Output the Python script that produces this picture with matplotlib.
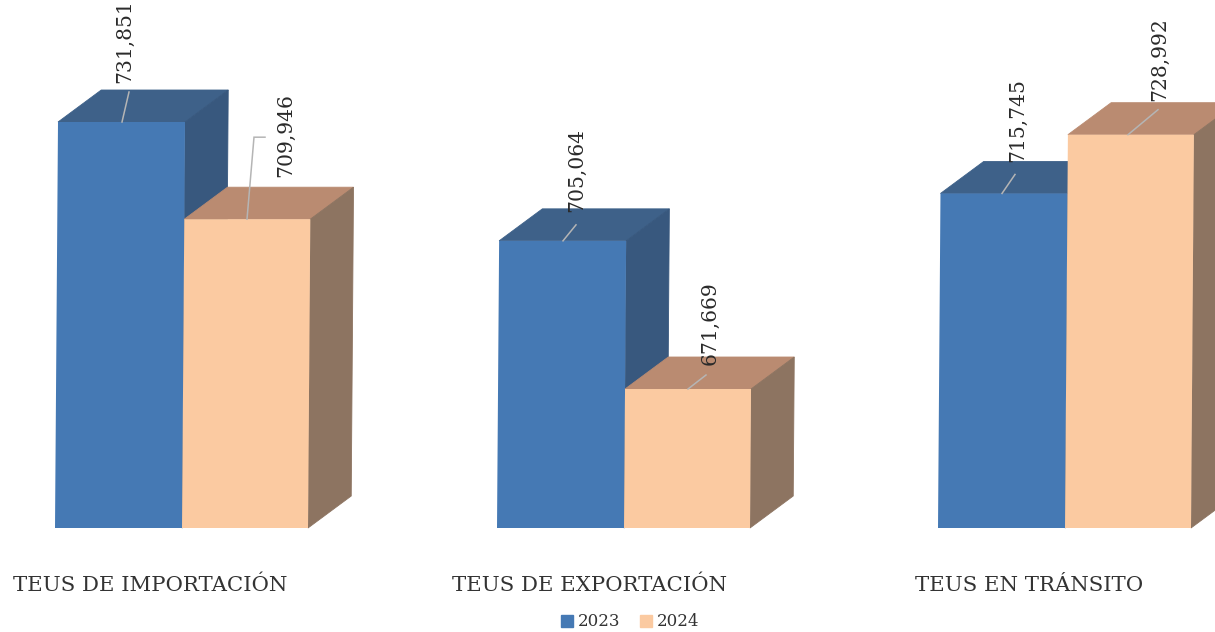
import matplotlib.pyplot as plt
from matplotlib.patches import Patch, Polygon
from matplotlib.transforms import Affine2D

categories = ['TEUS DE IMPORTACIÓN', 'TEUS DE EXPORTACIÓN', 'TEUS EN TRÁNSITO']
years = ['2023', '2024']
teus_2023 = [731851, 705064, 715745]
teus_2024 = [709946, 671669, 728992]

# layout in pixels (x axis runs 0..1215)
base = 640340
val_per_px = 225.4
group_left = [55, 497, 938]
label_x = [150, 590, 1029]
depth_x = 43
depth_y = 32 * val_per_px

colors = {
    '2023': ('#4579B4', '#3E6189', '#38587E'),
    '2024': ('#FBCAA1', '#BA8B71', '#8D7461'),
}

fig = plt.figure(figsize=(12.15, 6.32), dpi=100)
ax = fig.add_axes([0, 0, 1, 1])
ax.set_xlim(0, 1215)
ax.set_ylim(base - 104 * val_per_px, base + 528 * val_per_px)
ax.axis('off')

# the scan is slightly tilted, bars lean to the right going up
tilt = ax.transData + Affine2D().translate(0, -104).skew(0.0074, 0).translate(0, 104)


def box(x, w, val, year, z):
    front, top, side = colors[year]
    x2 = x + w
    ax.add_patch(Polygon([(x, val), (x + depth_x, val + depth_y),
                          (x2 + depth_x, val + depth_y), (x2, val)],
                         color=top, lw=0.6, transform=tilt, zorder=z))
    ax.add_patch(Polygon([(x2, base), (x2 + depth_x, base + depth_y),
                          (x2 + depth_x, val + depth_y), (x2, val)],
                         color=side, lw=0.6, transform=tilt, zorder=z))
    ax.bar(x, val - base, w, bottom=base, align='edge', color=front,
           transform=tilt, zorder=z + 0.5)


for i in range(3):
    box(group_left[i], 127, teus_2023[i], '2023', 1)
    # 2024 box has to cover the side of the 2023 one
    box(group_left[i] + 127, 126, teus_2024[i], '2024', 2)


def value_label(val, x0, x1, y1, tx, ty, elbow=None):
    # leader from the front top edge up to the rotated number
    xs = [x0, x1]
    ys = [val, val + y1 * val_per_px]
    if elbow:
        xs.append(x1 + elbow)
        ys.append(ys[-1])
    ax.plot(xs, ys, color='#B5B5B5', lw=1.1, solid_joinstyle='miter', zorder=3)
    ax.text(tx, val + ty * val_per_px, f'{val:,}', rotation=90, ha='center', va='bottom',
            family='DejaVu Serif', fontsize=14.6, color='#2A2A2A', zorder=4)


value_label(teus_2023[0], 122, 129, 30, 125, 39)
value_label(teus_2024[0], 247, 254, 82, 286, 42, elbow=11)
value_label(teus_2023[1], 563, 576, 16, 577, 29)
value_label(teus_2024[1], 688, 706, 14, 710, 24)
value_label(teus_2023[2], 1002, 1015, 19, 1018, 31)
value_label(teus_2024[2], 1128, 1158, 25, 1160, 34)

for i, name in enumerate(categories):
    ax.text(label_x[i], base - 57 * val_per_px, name, ha='center', va='center',
            family='DejaVu Serif', fontsize=15.3, color='#333333')

handles = [Patch(color=colors[y][0], label=y) for y in years]
ax.legend(handles=handles, loc='center', bbox_to_anchor=(630 / 1215, 10 / 632), ncol=2,
          frameon=False, handlelength=0.7, handleheight=0.7, handletextpad=0.3,
          columnspacing=1.2, prop={'family': 'DejaVu Serif', 'size': 12},
          labelcolor='#333333', borderpad=0)

fig.savefig('out.png', dpi=100)
